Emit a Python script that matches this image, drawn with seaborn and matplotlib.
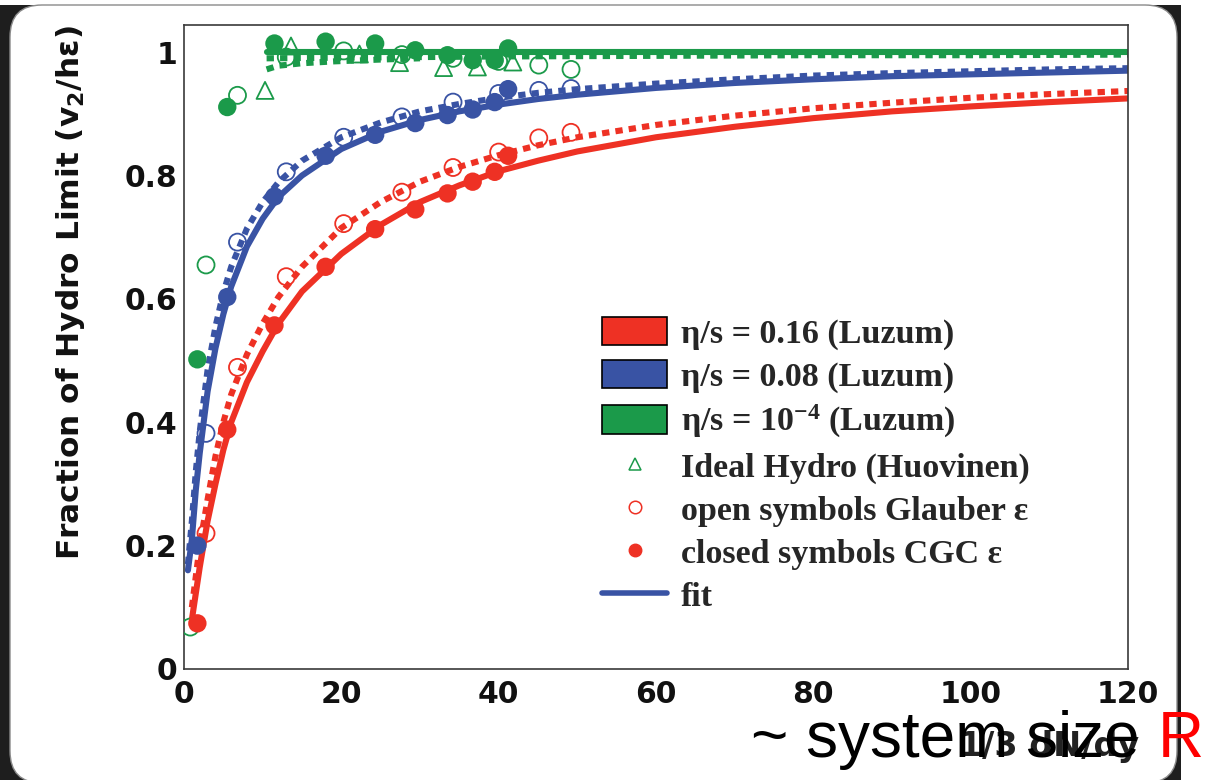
import numpy as np
import pandas as pd
import seaborn as sns
import matplotlib.pyplot as plt
import matplotlib.patches as mpatches
import matplotlib.transforms as mtransforms
from matplotlib.lines import Line2D
from matplotlib.ticker import MultipleLocator

RED = "#ee3124"
BLUE = "#3953a4"
GREEN = "#1b9a4a"

# data points
# closed symbols (CGC eccentricity)
cgc_x = [1.7, 5.5, 11.5, 18.0, 24.3, 29.4, 33.5, 36.7, 39.5, 41.2]
red_cgc = [0.074, 0.388, 0.557, 0.652, 0.713, 0.745, 0.771, 0.790, 0.806, 0.832]
blue_cgc = [0.200, 0.603, 0.766, 0.832, 0.866, 0.885, 0.898, 0.907, 0.919, 0.940]
green_cgc = [0.502, 0.911, 1.014, 1.017, 1.014, 1.003, 0.995, 0.987, 0.987, 1.006]

# open symbols (Glauber eccentricity)
glauber_x = [2.8, 6.8, 13.0, 20.3, 27.7, 34.2, 40.0, 45.1, 49.2]
red_glauber = [0.220, 0.489, 0.636, 0.722, 0.773, 0.813, 0.838, 0.861, 0.870]
blue_glauber = [0.382, 0.692, 0.806, 0.862, 0.895, 0.919, 0.933, 0.938, 0.941]
green_glauber_x = [0.8, 2.8, 6.8, 13.0, 20.3, 27.7, 34.2, 40.0, 45.1, 49.2]
green_glauber = [0.068, 0.655, 0.930, 0.992, 1.002, 0.996, 0.990, 0.985, 0.979, 0.972]

# ideal hydro (Huovinen)
ideal_x = [10.3, 13.6, 22.3, 27.4, 33.0, 37.3, 41.8]
ideal_y = [0.938, 1.010, 0.997, 0.983, 0.975, 0.976, 0.984]

# fit curves
red_fit_x = [1, 2, 3, 4, 5, 6, 8, 10, 12, 15, 20, 25, 30, 35, 40, 45, 50, 60, 70, 80, 90, 100, 110, 120]
red_fit_cgc = [0.08, 0.165, 0.24, 0.30, 0.355, 0.40, 0.465, 0.515, 0.56, 0.612, 0.673, 0.72, 0.757,
               0.784, 0.807, 0.824, 0.839, 0.862, 0.879, 0.893, 0.904, 0.912, 0.919, 0.925]
red_fit_glauber = [0.10, 0.20, 0.275, 0.345, 0.40, 0.445, 0.51, 0.56, 0.603, 0.652, 0.715, 0.757, 0.79,
                   0.814, 0.833, 0.849, 0.862, 0.882, 0.897, 0.909, 0.918, 0.926, 0.932, 0.937]
blue_fit_x = [0.5, 1, 1.5, 2, 3, 4, 5, 6, 8, 10, 12, 15, 20, 25, 30, 35, 40, 45, 50, 60, 70, 80, 90,
              100, 110, 120]
blue_fit_cgc = [0.16, 0.21, 0.29, 0.35, 0.45, 0.52, 0.575, 0.62, 0.685, 0.73, 0.765, 0.80, 0.843, 0.871,
                0.89, 0.904, 0.915, 0.924, 0.931, 0.942, 0.95, 0.956, 0.961, 0.964, 0.967, 0.97]
blue_fit_glauber = [0.17, 0.24, 0.32, 0.385, 0.485, 0.555, 0.61, 0.652, 0.714, 0.757, 0.789, 0.824, 0.862,
                    0.886, 0.904, 0.916, 0.926, 0.934, 0.94, 0.949, 0.956, 0.962, 0.966, 0.969, 0.972,
                    0.974]
green_fit_x = [10.5, 20, 40, 60, 80, 100, 120]
green_fit_cgc = [1.0, 1.0, 1.0, 1.0, 1.0, 1.0, 1.0]
green_fit_ideal = [0.990, 0.991, 0.993, 0.994, 0.995, 0.995, 0.996]
green_fit_glauber_x = [10.5, 12, 15, 19, 25, 30]
green_fit_glauber = [0.972, 0.978, 0.982, 0.985, 0.988, 0.990]

legend_labels = [
    "η/s = 0.16 (Luzum)",
    "η/s = 0.08 (Luzum)",
    "η/s = 10$\\mathregular{^{-4}}$ (Luzum)",
    "Ideal Hydro (Huovinen)",
    "open symbols Glauber ε",
    "closed symbols CGC ε",
    "fit",
]

sns.set_style("white")
plt.rcParams["font.family"] = ["DejaVu Sans"]

fig = plt.figure(figsize=(12.07, 7.8), dpi=100)
fig.patch.set_facecolor("white")

# slide frame: dark corners behind a rounded white panel
ident = mtransforms.IdentityTransform()
fig.patches.append(mpatches.Rectangle((0, 0), 1181, 775, transform=ident,
                                      facecolor="#1e1e1e", edgecolor="none", zorder=-3))
fig.patches.append(mpatches.FancyBboxPatch((10, -3), 1167, 778, transform=ident,
                                           boxstyle="round,pad=0,rounding_size=32",
                                           facecolor="white", edgecolor="#8a8a8a",
                                           linewidth=1.0, zorder=-2))

ax = fig.add_axes([184 / 1207, 111 / 780, 944 / 1207, 644 / 780])
ax.set_facecolor("white")

lw_fit = 4.4
dash = (0, (1.2, 1.0))
sns.lineplot(x=red_fit_x, y=red_fit_glauber, color=RED, lw=lw_fit, linestyle=dash, ax=ax)
sns.lineplot(x=red_fit_x, y=red_fit_cgc, color=RED, lw=lw_fit, ax=ax)
sns.lineplot(x=blue_fit_x, y=blue_fit_glauber, color=BLUE, lw=lw_fit, linestyle=dash, ax=ax)
sns.lineplot(x=blue_fit_x, y=blue_fit_cgc, color=BLUE, lw=lw_fit, ax=ax)
sns.lineplot(x=green_fit_glauber_x, y=green_fit_glauber, color=GREEN, lw=lw_fit, linestyle=dash, ax=ax)
sns.lineplot(x=green_fit_x, y=green_fit_ideal, color=GREEN, lw=lw_fit, linestyle=dash, ax=ax)
sns.lineplot(x=green_fit_x, y=green_fit_cgc, color=GREEN, lw=lw_fit, ax=ax)

msize = 150
for xs, ys, c in [(green_glauber_x, green_glauber, GREEN),
                  (glauber_x, blue_glauber, BLUE),
                  (glauber_x, red_glauber, RED)]:
    sns.scatterplot(x=xs, y=ys, marker="o", s=msize, facecolors="none",
                    edgecolor=c, linewidth=1.3, ax=ax, zorder=4)
sns.scatterplot(x=ideal_x, y=ideal_y, marker="^", s=msize, facecolors="none",
                edgecolor=GREEN, linewidth=1.3, ax=ax, zorder=4)
for ys, c in [(green_cgc, GREEN), (blue_cgc, BLUE), (red_cgc, RED)]:
    sns.scatterplot(x=cgc_x, y=ys, marker="o", s=msize + 25, color=c,
                    edgecolor="none", ax=ax, zorder=5)

ax.set_xlim(0, 120)
ax.set_ylim(0, 1.044)
ax.xaxis.set_major_locator(MultipleLocator(20))
ax.xaxis.set_minor_locator(MultipleLocator(5))
ax.yaxis.set_major_locator(MultipleLocator(0.2))
ax.yaxis.set_minor_locator(MultipleLocator(0.05))
ax.set_yticks([0, 0.2, 0.4, 0.6, 0.8, 1.0])
ax.set_yticklabels(["0", "0.2", "0.4", "0.6", "0.8", "1"])

for s in ax.spines.values():
    s.set_color("#3a3a3a")
    s.set_linewidth(1.2)
tick_font = {"family": "DejaVu Sans", "weight": "bold", "size": 21.5}
ax.tick_params(axis="y", which="major", direction="in", length=21.6, width=1.1,
               color="#3a3a3a", pad=5)
ax.tick_params(axis="y", which="minor", direction="in", length=10.8, width=1.1, color="#3a3a3a")
ax.tick_params(axis="x", which="major", direction="in", length=14, width=1.1,
               color="#3a3a3a", pad=8)
ax.tick_params(axis="x", which="minor", direction="in", length=9, width=1.1, color="#3a3a3a")
for lab in ax.get_xticklabels() + ax.get_yticklabels():
    lab.set_fontproperties(tick_font)
    lab.set_color("#111111")

ax.set_ylabel("Fraction of Hydro Limit (v$\\mathregular{_2}$/hε)", loc="top",
              fontsize=22.5, fontweight="bold", color="#111111")
ax.yaxis.set_label_coords(-0.103, 1.0)
ax.set_xlabel("1/3 dN/dy", loc="right", fontsize=24, fontweight="bold", color="#222222")
ax.xaxis.set_label_coords(1.0117, -0.095)

handles = [
    mpatches.Patch(facecolor=RED, edgecolor="black", linewidth=1.2),
    mpatches.Patch(facecolor=BLUE, edgecolor="black", linewidth=1.2),
    mpatches.Patch(facecolor=GREEN, edgecolor="black", linewidth=1.2),
    Line2D([], [], linestyle="none", marker="^", markersize=9, markerfacecolor="none",
           markeredgecolor=GREEN, markeredgewidth=1.1),
    Line2D([], [], linestyle="none", marker="o", markersize=9, markerfacecolor="none",
           markeredgecolor=RED, markeredgewidth=1.1),
    Line2D([], [], linestyle="none", marker="o", markersize=9, markerfacecolor=RED,
           markeredgecolor=RED),
    Line2D([], [], color=BLUE, lw=4),
]
leg = ax.legend(handles, legend_labels, loc="upper left", bbox_to_anchor=(0.443, 0.547),
                frameon=False, borderpad=0, borderaxespad=0, handlelength=1.9,
                handleheight=0.9, handletextpad=0.42, labelspacing=0.3,
                prop={"family": "Liberation Serif", "weight": "bold", "size": 24.5})

# slide annotation on top of the axis title
fig.text(1140 / 1207, 23 / 780, "~ system size", ha="right", va="baseline",
         fontsize=46, family="Liberation Sans", color="black")
fig.text(1158 / 1207, 23 / 780, "R", ha="left", va="baseline",
         fontsize=46, family="Liberation Sans", color="#ff0000")

fig.savefig("out.png", dpi=100)
